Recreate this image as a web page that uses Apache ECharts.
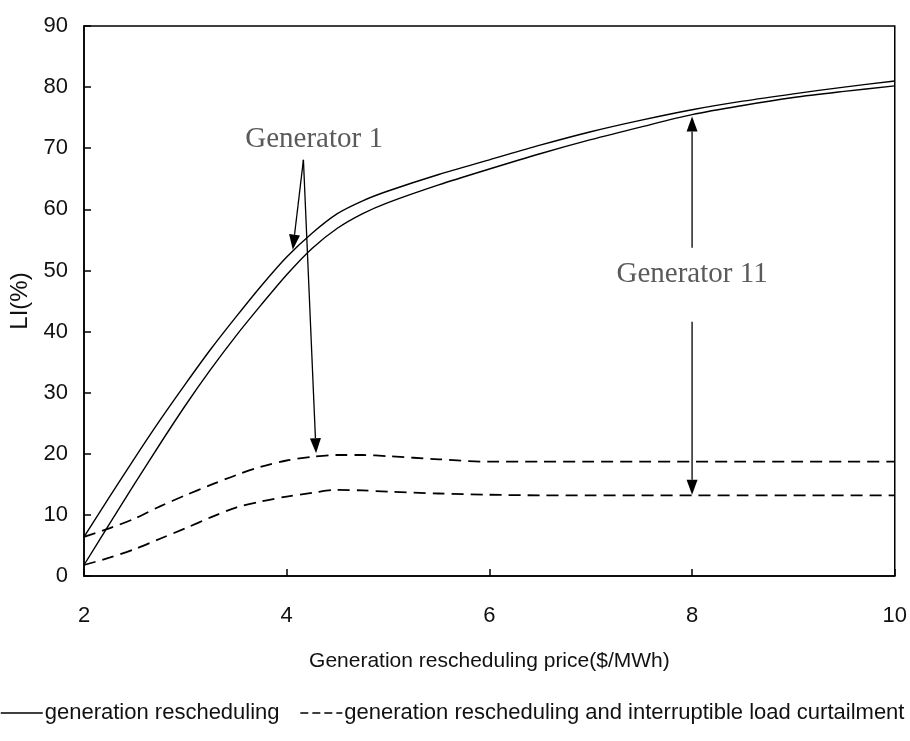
<!DOCTYPE html>
<html><head><meta charset="utf-8">
<script src="https://cdn.jsdelivr.net/npm/echarts@6/dist/echarts.min.js"></script>
<style>html,body{margin:0;padding:0;background:#fff}#c{width:910px;height:741px}</style>
</head><body><div id="c"></div>
<script>
// ---- data ----
const xValues   = [2, 2.25, 2.5, 2.75, 3, 3.25, 3.5, 3.75, 4, 4.25, 4.5, 4.75, 5, 5.5, 6, 6.5, 7, 7.5, 8, 8.5, 9, 9.5, 10];
const genResG1  = [6.4, 12.9, 19.3, 25.5, 31.4, 37.1, 42.4, 47.5, 52.2, 56.1, 59.3, 61.4, 63.0, 65.7, 68.1, 70.5, 72.7, 74.6, 76.3, 77.7, 78.9, 80.0, 81.0];
const genResG11 = [1.8, 8.5, 15.1, 21.6, 27.9, 33.8, 39.3, 44.4, 49.3, 53.6, 56.9, 59.3, 61.1, 64.0, 66.6, 69.1, 71.4, 73.5, 75.5, 77.0, 78.3, 79.3, 80.2];
const genIlcG1  = [6.4, 7.8, 9.4, 11.4, 13.2, 14.9, 16.5, 17.9, 18.9, 19.5, 19.8, 19.8, 19.6, 19.1, 18.7, 18.7, 18.7, 18.7, 18.7, 18.7, 18.7, 18.7, 18.7];
const genIlcG11 = [1.8, 3.0, 4.4, 6.1, 7.8, 9.6, 11.2, 12.2, 13.0, 13.6, 14.1, 14.0, 13.8, 13.5, 13.3, 13.2, 13.2, 13.2, 13.2, 13.2, 13.2, 13.2, 13.2];
const seriesNames = ['generation rescheduling', 'generation rescheduling and interruptible load curtailment'];
const xAxisTitle  = 'Generation rescheduling price($/MWh)';
const yAxisTitle  = 'LI(%)';
const annotationTexts = ['Generator 1', 'Generator 11'];

const FONT = '"Liberation Sans", Arial, sans-serif';
const pairs = ys => xValues.map((x, i) => [x, ys[i]]);

const chart = echarts.init(document.getElementById('c'), null, {renderer: 'canvas'});

const lineSeries = (name, ys, dashed) => ({
  name, type: 'line', data: pairs(ys), symbol: 'none', smooth: 0.3,
  lineStyle: {color: '#000', width: dashed ? 1.8 : 1.4, type: dashed ? [12, 7] : 'solid'},
  itemStyle: {color: '#000'}, silent: true
});

chart.setOption({
  animation: false,
  backgroundColor: '#fff',
  grid: {left: 84, right: 13, top: 26, bottom: 165, show: true, borderColor: '#000', borderWidth: 1.5, backgroundColor: 'transparent'},
  xAxis: {
    type: 'value', min: 2, max: 10, interval: 2,
    name: xAxisTitle, nameLocation: 'middle', nameGap: 75,
    nameTextStyle: {fontFamily: FONT, fontSize: 21, color: '#111'},
    axisLine: {lineStyle: {color: '#000', width: 1.5}},
    axisTick: {inside: true, length: 7, lineStyle: {color: '#000', width: 1.5}},
    axisLabel: {fontFamily: FONT, fontSize: 22, color: '#111', margin: 29},
    splitLine: {show: false}
  },
  yAxis: {
    type: 'value', min: 0, max: 90, interval: 10,
    name: yAxisTitle, nameLocation: 'middle', nameGap: 52, nameRotate: 90,
    nameTextStyle: {fontFamily: FONT, fontSize: 24, color: '#111'},
    axisLine: {lineStyle: {color: '#000', width: 1.5}},
    axisTick: {inside: true, length: 7, lineStyle: {color: '#000', width: 1.5}},
    axisLabel: {fontFamily: FONT, fontSize: 22, color: '#111', margin: 16},
    splitLine: {show: false}
  },
  legend: {
    left: 0, top: 702, padding: 0, itemGap: 20, itemWidth: 42, itemHeight: 14,
    itemStyle: {opacity: 0},
    data: [
      {name: seriesNames[0], lineStyle: {type: 'solid', width: 1.5}},
      {name: seriesNames[1], lineStyle: {type: [8, 4], width: 1.5}}
    ],
    textStyle: {fontFamily: FONT, fontSize: 22, color: '#111', padding: [0, 0, 0, -3]}
  },
  series: [
    lineSeries(seriesNames[0], genResG1, false),
    lineSeries(seriesNames[0], genResG11, false),
    lineSeries(seriesNames[1], genIlcG1, true),
    lineSeries(seriesNames[1], genIlcG11, true)
  ]
});

// ---- annotations (positions in data coordinates, converted by the chart) ----
const annotations = [
  {text: annotationTexts[0], at: [4.27, 71.5], arrows: [[[4.165, 68.1], [4.06, 53.4]], [[4.165, 68.1], [4.29, 20.1]]]},
  {text: annotationTexts[1], at: [8.0, 49.4],  arrows: [[[8.0, 53.7], [8.0, 75.2]], [[8.0, 41.6], [8.0, 13.3]]]}
];
const toPx = p => chart.convertToPixel({gridIndex: 0}, p);
const graphics = [];
annotations.forEach(a => {
  const c = toPx(a.at);
  graphics.push({
    type: 'text', x: c[0], y: c[1], silent: true,
    style: {text: a.text, x: 0, y: 0, align: 'center', verticalAlign: 'middle',
            font: '29px "Liberation Serif", "DejaVu Serif", serif', fill: '#5a5a5a'}
  });
  a.arrows.forEach(([from, to]) => {
    const A = toPx(from), B = toPx(to);
    const dx = B[0] - A[0], dy = B[1] - A[1], len = Math.hypot(dx, dy);
    const ux = dx / len, uy = dy / len, head = 15, hw = 5.5;
    const bx = B[0] - ux * head, by = B[1] - uy * head;
    graphics.push({type: 'line', silent: true, shape: {x1: A[0], y1: A[1], x2: bx, y2: by}, style: {stroke: '#000', lineWidth: 1.3}});
    graphics.push({type: 'polygon', silent: true,
      shape: {points: [[B[0], B[1]], [bx - uy * hw, by + ux * hw], [bx + uy * hw, by - ux * hw]]},
      style: {fill: '#000'}});
  });
});
chart.setOption({graphic: graphics});
</script>
</body></html>
